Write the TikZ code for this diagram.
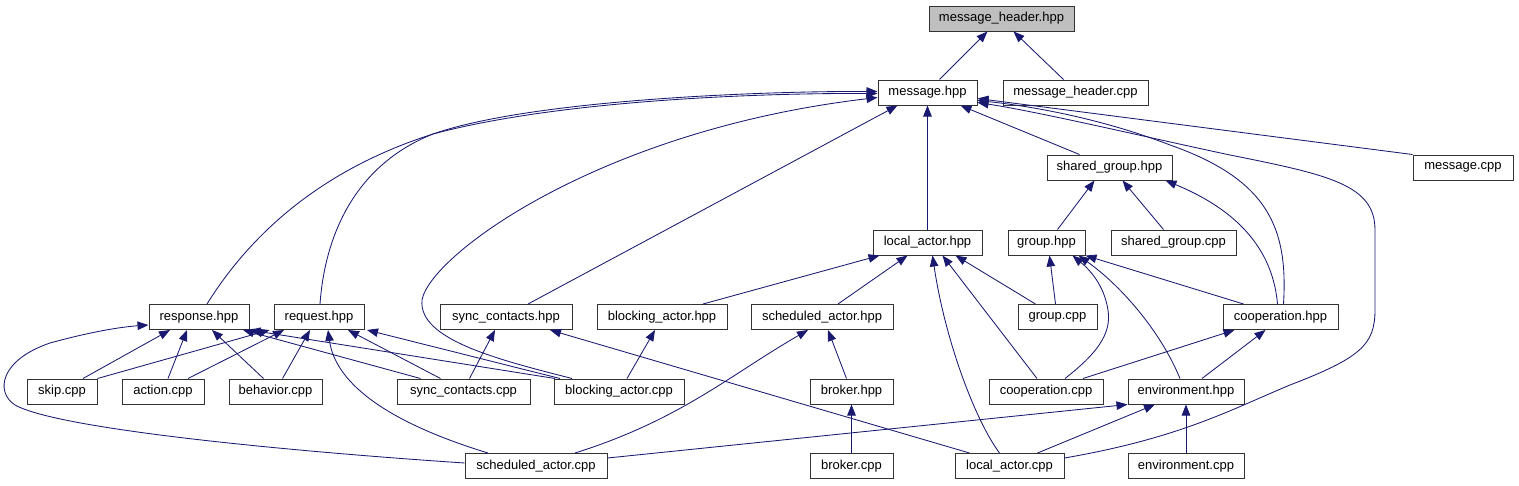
\documentclass[tikz,border=0pt]{standalone}
\usepackage{fontspec}
\setmainfont{Liberation Sans}
\usetikzlibrary{arrows.meta,calc}
\definecolor{edgeblue}{HTML}{191970}
\definecolor{boxgray}{HTML}{BFBFBF}
\begin{document}
\begin{tikzpicture}[x=1pt,y=-1pt,
  box/.style={draw=black!80, line width=1pt, fill=white, minimum height=25pt, inner sep=0pt, font=\fontsize{13}{15}\selectfont},
  edge/.style={draw=edgeblue, line width=0.85pt, -{Triangle[length=11pt,width=8.5pt]}}]
\useasboundingbox (0,0) rectangle (1519,485);
% row 0
\node[box, fill=boxgray, minimum width=145pt] (mhh) at (1001.5,18.5) {message\_header.hpp};
% row 1
\node[box, minimum width=99pt] (msg) at (927.5,92.5) {message.hpp};
\node[box, minimum width=145pt] (mhc) at (1075.5,92.5) {message\_header.cpp};
% row 2
\node[box, minimum width=125pt] (sgh) at (1109.5,167.5) {shared\_group.hpp};
\node[box, minimum width=100pt] (mcpp) at (1463,167.5) {message.cpp};
% row 3
\node[box, minimum width=109pt] (lah) at (927.5,242.5) {local\_actor.hpp};
\node[box, minimum width=77pt] (grh) at (1046.5,242.5) {group.hpp};
\node[box, minimum width=125pt] (sgc) at (1173.5,242.5) {shared\_group.cpp};
% row 4
\node[box, minimum width=100pt] (resh) at (199,317) {response.hpp};
\node[box, minimum width=90pt] (reqh) at (319,317) {request.hpp};
\node[box, minimum width=132pt] (sch) at (506,317) {sync\_contacts.hpp};
\node[box, minimum width=130pt] (bah) at (662,317) {blocking\_actor.hpp};
\node[box, minimum width=142pt] (sah) at (822,317) {scheduled\_actor.hpp};
\node[box, minimum width=79pt] (grc) at (1057.5,317) {group.cpp};
\node[box, minimum width=115pt] (coh) at (1280.5,317) {cooperation.hpp};
% row 5
\node[box, minimum width=70pt] (skip) at (62,391.5) {skip.cpp};
\node[box, minimum width=82pt] (act) at (163,391.5) {action.cpp};
\node[box, minimum width=93pt] (beh) at (275.5,391.5) {behavior.cpp};
\node[box, minimum width=133pt] (scc) at (463.5,391.5) {sync\_contacts.cpp};
\node[box, minimum width=130pt] (bac) at (619,391.5) {blocking\_actor.cpp};
\node[box, minimum width=83pt] (brh) at (851.5,391.5) {broker.hpp};
\node[box, minimum width=114pt] (coc) at (1046,391.5) {cooperation.cpp};
\node[box, minimum width=116pt] (envh) at (1186,391.5) {environment.hpp};
% row 6
\node[box, minimum width=142pt] (sac) at (536,466) {scheduled\_actor.cpp};
\node[box, minimum width=83pt] (brc) at (851.5,466) {broker.cpp};
\node[box, minimum width=109pt] (lac) at (1009.5,466) {local\_actor.cpp};
\node[box, minimum width=116pt] (envc) at (1186,466) {environment.cpp};
% edges to message_header.hpp
\draw[edge] ($(msg.north)+(12,0)$) -- ($(mhh.south)+(-14,0)$);
\draw[edge] ($(mhc.north)+(-12,0)$) -- ($(mhh.south)+(12,0)$);
% edges to message.hpp
\draw[edge] ($(resh.north)+(8,0)$) .. controls (250,235) and (320,170) .. (433,134) .. controls (560,100) and (760,93) .. ($(msg.west)+(0,1)$);
\draw[edge] ($(reqh.north)+(1,0)$) .. controls (325,235) and (355,165) .. (433,134) .. controls (530,100) and (760,91) .. ($(msg.west)+(0,-1)$);
\draw[edge] ($(bac.north)+(-47,0)$) .. controls (500,360) and (418,340) .. (422,300) .. controls (430,255) and (600,130) .. ($(msg.west)+(0,5)$);
\draw[edge] ($(sch.north)+(22,0)$) -- ($(msg.south)+(-30,0)$);
\draw[edge] (lah.north) -- (msg.south);
\draw[edge] ($(sgh.north)+(-30,0)$) -- ($(msg.south)+(33,0)$);
\draw[edge] ($(coh.north)+(3,0)$) .. controls (1288,230) and (1270,180) .. (1170,145) .. controls (1100,118) and (1030,106) .. ($(msg.east)+(0,8)$);
\draw[edge] ($(lac.east)+(0,-8)$) .. controls (1180,438) and (1230,410) .. (1290,385) .. controls (1360,358) and (1375,345) .. (1375,310) -- (1375,230) .. controls (1375,185) and (1330,175) .. (1230,155) .. controls (1150,138) and (1040,112) .. ($(msg.east)+(0,10)$);
\draw[edge] (mcpp.north west) -- ($(msg.east)+(0,6)$);
% edges to shared_group.hpp
\draw[edge] ($(grh.north)+(11,0)$) -- ($(sgh.south)+(-15,0)$);
\draw[edge] ($(sgc.north)+(-10,0)$) -- ($(sgh.south)+(13,0)$);
\draw[edge] ($(coh.north)+(-3,0)$) .. controls (1272,240) and (1225,205) .. ($(sgh.south)+(56,0)$);
% edges to local_actor.hpp
\draw[edge] ($(bah.north)+(41,0)$) -- ($(lah.south)+(-48,0)$);
\draw[edge] ($(sah.north)+(16,0)$) -- ($(lah.south)+(-20,0)$);
\draw[edge] ($(lac.north)+(-10,0)$) .. controls (975,420) and (945,340) .. ($(lah.south)+(5,0)$);
\draw[edge] ($(coc.north)+(-9,0)$) -- ($(lah.south)+(15,0)$);
\draw[edge] ($(grc.north)+(-22,0)$) -- ($(lah.south)+(28,0)$);
% edges to group.hpp
\draw[edge] ($(grc.north)+(-2,0)$) -- ($(grh.south)+(3,0)$);
\draw[edge] ($(coc.north)+(19,0)$) .. controls (1095,355) and (1112,335) .. (1108,310) .. controls (1104,285) and (1090,270) .. ($(grh.south)+(26,0)$);
\draw[edge] ($(envh.north)+(-6,0)$) .. controls (1160,330) and (1120,285) .. ($(grh.south)+(32,0)$);
\draw[edge] ($(coh.north)+(-37,0)$) -- (grh.south east);
% edges to cooperation.hpp
\draw[edge] ($(coc.north)+(37,0)$) -- ($(coh.south)+(-46,0)$);
\draw[edge] ($(envh.north)+(16,0)$) -- ($(coh.south)+(-15,0)$);
% edges to environment.hpp
\draw[edge] ($(sac.east)+(0,-8)$) -- (envh.south west);
\draw[edge] ($(lac.north)+(28,0)$) -- ($(envh.south)+(-31,0)$);
\draw[edge] (envc.north) -- (envh.south);
% edges to scheduled_actor.hpp / broker.hpp
\draw[edge] ($(brh.north)+(-5,0)$) -- ($(sah.south)+(6,0)$);
\draw[edge] (brc.north) -- (brh.south);
\draw[edge] ($(sac.north)+(39,0)$) .. controls (680,420) and (730,375) .. ($(sah.south)+(-14,0)$);
% blocking_actor.hpp, sync_contacts.hpp
\draw[edge] ($(bac.north)+(8,0)$) -- ($(bah.south)+(-7,0)$);
\draw[edge] ($(scc.north)+(6,0)$) -- ($(sch.south)+(-11,0)$);
\draw[edge] ($(lac.north)+(-40,0)$) -- ($(sch.south)+(44,0)$);
% edges to response.hpp
\draw[edge] ($(skip.north)+(21,0)$) -- ($(resh.south)+(-29,0)$);
\draw[edge] ($(act.north)+(5,0)$) -- ($(resh.south)+(-12,0)$);
\draw[edge] ($(beh.north)+(-12,0)$) -- ($(resh.south)+(13,0)$);
\draw[edge] ($(scc.north)+(-43,0)$) -- ($(resh.south)+(44,0)$);
\draw[edge] ($(bac.north)+(-64,0)$) -- (resh.south east);
\draw[edge] ($(sac.west)+(0,-3)$) .. controls (300,452) and (60,430) .. (15,405) .. controls (-5,392) and (0,360) .. (50,343) .. controls (90,332) and (120,327) .. ($(resh.west)+(0,8)$);
% edges to request.hpp
\draw[edge] (skip.north east) -- ($(reqh.south west)+(-4,0)$);
\draw[edge] ($(act.north)+(25,0)$) -- ($(reqh.south)+(-35,0)$);
\draw[edge] ($(beh.north)+(7,0)$) -- ($(reqh.south)+(-9,0)$);
\draw[edge] ($(sac.north)+(-48,0)$) .. controls (380,420) and (335,380) .. ($(reqh.south)+(9,0)$);
\draw[edge] ($(scc.north)+(-23,0)$) -- ($(reqh.south)+(29,0)$);
\draw[edge] ($(bac.north)+(-59,0)$) -- ($(reqh.south)+(48,0)$);
\end{tikzpicture}
\end{document}
